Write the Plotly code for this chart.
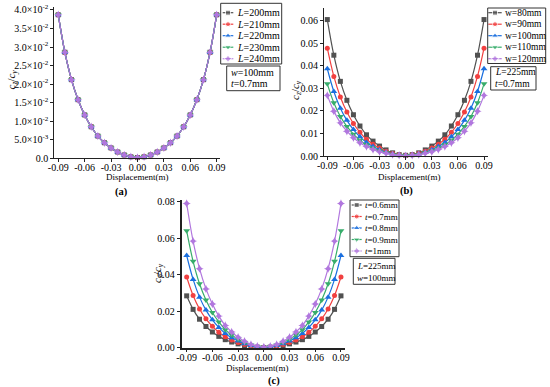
import plotly.graph_objects as go

# ---------------- data ----------------
displacement = [-0.09, -0.0825, -0.075, -0.0675, -0.06, -0.0525, -0.045, -0.0375, -0.03,
                -0.0225, -0.015, -0.0075, 0.0, 0.0075, 0.015, 0.0225, 0.03, 0.0375, 0.045,
                0.0525, 0.06, 0.0675, 0.075, 0.0825, 0.09]

# (a) w=100mm, t=0.7mm : the five L curves coincide
ratio_L200 = [0.0387, 0.0286, 0.0212, 0.0158, 0.0117, 0.0085, 0.0060, 0.0042, 0.0028, 0.0017, 0.0009, 0.0004, 0.0002,
              0.0004, 0.0009, 0.0017, 0.0028, 0.0042, 0.0060, 0.0085, 0.0117, 0.0158, 0.0212, 0.0286, 0.0387]
ratio_L210 = [0.0387, 0.0286, 0.0212, 0.0158, 0.0117, 0.0085, 0.0060, 0.0042, 0.0028, 0.0017, 0.0009, 0.0004, 0.0002,
              0.0004, 0.0009, 0.0017, 0.0028, 0.0042, 0.0060, 0.0085, 0.0117, 0.0158, 0.0212, 0.0286, 0.0387]
ratio_L220 = [0.0387, 0.0286, 0.0212, 0.0158, 0.0117, 0.0085, 0.0060, 0.0042, 0.0028, 0.0017, 0.0009, 0.0004, 0.0002,
              0.0004, 0.0009, 0.0017, 0.0028, 0.0042, 0.0060, 0.0085, 0.0117, 0.0158, 0.0212, 0.0286, 0.0387]
ratio_L230 = [0.0387, 0.0286, 0.0212, 0.0158, 0.0117, 0.0085, 0.0060, 0.0042, 0.0028, 0.0017, 0.0009, 0.0004, 0.0002,
              0.0004, 0.0009, 0.0017, 0.0028, 0.0042, 0.0060, 0.0085, 0.0117, 0.0158, 0.0212, 0.0286, 0.0387]
ratio_L240 = [0.0387, 0.0286, 0.0212, 0.0158, 0.0117, 0.0085, 0.0060, 0.0042, 0.0028, 0.0017, 0.0009, 0.0004, 0.0002,
              0.0004, 0.0009, 0.0017, 0.0028, 0.0042, 0.0060, 0.0085, 0.0117, 0.0158, 0.0212, 0.0286, 0.0387]

# (b) L=225mm, t=0.7mm
ratio_w80 = [0.0605, 0.0447, 0.0331, 0.0247, 0.0183, 0.0133, 0.0094, 0.0066, 0.0044, 0.0027, 0.0014, 0.0006, 0.0003,
             0.0006, 0.0014, 0.0027, 0.0044, 0.0066, 0.0094, 0.0133, 0.0183, 0.0247, 0.0331, 0.0447, 0.0605]
ratio_w90 = [0.0478, 0.0353, 0.0262, 0.0195, 0.0144, 0.0105, 0.0074, 0.0052, 0.0035, 0.0021, 0.0011, 0.0005, 0.0002,
             0.0005, 0.0011, 0.0021, 0.0035, 0.0052, 0.0074, 0.0105, 0.0144, 0.0195, 0.0262, 0.0353, 0.0478]
ratio_w100 = [0.0387, 0.0286, 0.0212, 0.0158, 0.0117, 0.0085, 0.0060, 0.0042, 0.0028, 0.0017, 0.0009, 0.0004, 0.0002,
              0.0004, 0.0009, 0.0017, 0.0028, 0.0042, 0.0060, 0.0085, 0.0117, 0.0158, 0.0212, 0.0286, 0.0387]
ratio_w110 = [0.0320, 0.0236, 0.0175, 0.0131, 0.0097, 0.0070, 0.0050, 0.0035, 0.0023, 0.0014, 0.0007, 0.0003, 0.0002,
              0.0003, 0.0007, 0.0014, 0.0023, 0.0035, 0.0050, 0.0070, 0.0097, 0.0131, 0.0175, 0.0236, 0.0320]
ratio_w120 = [0.0269, 0.0199, 0.0147, 0.0110, 0.0081, 0.0059, 0.0042, 0.0029, 0.0019, 0.0012, 0.0006, 0.0003, 0.0001,
              0.0003, 0.0006, 0.0012, 0.0019, 0.0029, 0.0042, 0.0059, 0.0081, 0.0110, 0.0147, 0.0199, 0.0269]

# (c) L=225mm, w=100mm
ratio_t06 = [0.0284, 0.0210, 0.0156, 0.0116, 0.0086, 0.0062, 0.0044, 0.0031, 0.0021, 0.0012, 0.0007, 0.0003, 0.0001,
             0.0003, 0.0007, 0.0012, 0.0021, 0.0031, 0.0044, 0.0062, 0.0086, 0.0116, 0.0156, 0.0210, 0.0284]
ratio_t07 = [0.0387, 0.0286, 0.0212, 0.0158, 0.0117, 0.0085, 0.0060, 0.0042, 0.0028, 0.0017, 0.0009, 0.0004, 0.0002,
             0.0004, 0.0009, 0.0017, 0.0028, 0.0042, 0.0060, 0.0085, 0.0117, 0.0158, 0.0212, 0.0286, 0.0387]
ratio_t08 = [0.0505, 0.0374, 0.0277, 0.0206, 0.0153, 0.0111, 0.0078, 0.0055, 0.0037, 0.0022, 0.0012, 0.0005, 0.0003,
             0.0005, 0.0012, 0.0022, 0.0037, 0.0055, 0.0078, 0.0111, 0.0153, 0.0206, 0.0277, 0.0374, 0.0505]
ratio_t09 = [0.0640, 0.0473, 0.0350, 0.0261, 0.0193, 0.0141, 0.0099, 0.0069, 0.0046, 0.0028, 0.0015, 0.0007, 0.0003,
             0.0007, 0.0015, 0.0028, 0.0046, 0.0069, 0.0099, 0.0141, 0.0193, 0.0261, 0.0350, 0.0473, 0.0640]
ratio_t10 = [0.0790, 0.0584, 0.0433, 0.0322, 0.0239, 0.0173, 0.0122, 0.0086, 0.0057, 0.0035, 0.0018, 0.0008, 0.0004,
             0.0008, 0.0018, 0.0035, 0.0057, 0.0086, 0.0122, 0.0173, 0.0239, 0.0322, 0.0433, 0.0584, 0.0790]

names_a = ["<i>L</i>=200mm", "<i>L</i>=210mm", "<i>L</i>=220mm", "<i>L</i>=230mm", "<i>L</i>=240mm"]
names_b = ["w=80mm", "w=90mm", "w=100mm", "w=110mm", "w=120mm"]
names_c = ["<i>t</i>=0.6mm", "<i>t</i>=0.7mm", "<i>t</i>=0.8mm", "<i>t</i>=0.9mm", "<i>t</i>=1mm"]

x_tickvals = [-0.09, -0.06, -0.03, 0.0, 0.03, 0.06, 0.09]
x_ticktext = ["-0.09", "-0.06", "-0.03", "0.00", "0.03", "0.06", "0.09"]
ya_tickvals = [0.0, 0.005, 0.01, 0.015, 0.02, 0.025, 0.03, 0.035, 0.04]
ya_ticktext = ["0.0", "5.0×10<sup>-3</sup>", "1.0×10<sup>-2</sup>", "1.5×10<sup>-2</sup>", "2.0×10<sup>-2</sup>",
               "2.5×10<sup>-2</sup>", "3.0×10<sup>-2</sup>", "3.5×10<sup>-2</sup>", "4.0×10<sup>-2</sup>"]
yb_tickvals = [0.0, 0.01, 0.02, 0.03, 0.04, 0.05, 0.06]
yb_ticktext = ["0.00", "0.01", "0.02", "0.03", "0.04", "0.05", "0.06"]
yc_tickvals = [0.0, 0.02, 0.04, 0.06, 0.08]
yc_ticktext = ["0.00", "0.02", "0.04", "0.06", "0.08"]

# ---------------- styles ----------------
W, H = 550, 387
FONT = "Liberation Serif"
colors = ["#515151", "#F14040", "#1A6FDF", "#37AD6B", "#B177DE"]
symbols = ["square", "circle", "triangle-up", "triangle-down", "star-diamond"]
msizes = [5, 5, 6, 6, 6]

fig = go.Figure()

panels = [
    ("x", "y", [ratio_L200, ratio_L210, ratio_L220, ratio_L230, ratio_L240], names_a),
    ("x2", "y2", [ratio_w80, ratio_w90, ratio_w100, ratio_w110, ratio_w120], names_b),
    ("x3", "y3", [ratio_t06, ratio_t07, ratio_t08, ratio_t09, ratio_t10], names_c),
]
for xa, ya, series, names in panels:
    for i, (vals, nm) in enumerate(zip(series, names)):
        fig.add_trace(go.Scatter(
            x=displacement, y=vals, name=nm, xaxis=xa, yaxis=ya,
            mode="lines+markers", line=dict(color=colors[i], width=1.2, shape="spline"),
            marker=dict(symbol=symbols[i], size=msizes[i], color=colors[i]),
            cliponaxis=False, showlegend=False))

# pixel geometry of the three plot areas: left, right, top, bottom
geo = {
    "a": (54.3, 220.0, 7.0, 158.3),
    "b": (324.0, 488.3, 8.3, 156.0),
    "c": (181.7, 345.0, 200.0, 347.7),
}
ranges_x = {"a": [-0.0945, 0.0938], "b": [-0.0938, 0.0949], "c": [-0.0958, 0.0947]}
ranges_y = {"a": [0, 0.0408], "b": [0, 0.0655], "c": [0, 0.0809]}


def dom(key):
    l, r, t, b = geo[key]
    return [l / W, r / W], [1 - b / H, 1 - t / H]


tickfont = dict(family=FONT, size=10, color="black")
axis_common = dict(showgrid=False, zeroline=False, ticks="outside", ticklen=3, tickwidth=1,
                   tickcolor="#222", showline=True, linecolor="#222", tickfont=tickfont,
                   mirror=False, automargin=False)

for key, xn, yn, ytv, ytt, lw in [("a", "xaxis", "yaxis", ya_tickvals, ya_ticktext, (1, 1)),
                                  ("b", "xaxis2", "yaxis2", yb_tickvals, yb_ticktext, (1, 1)),
                                  ("c", "xaxis3", "yaxis3", yc_tickvals, yc_ticktext, (1.5, 2))]:
    dx, dy = dom(key)
    anchor_y = "y" if key == "a" else ("y2" if key == "b" else "y3")
    anchor_x = "x" if key == "a" else ("x2" if key == "b" else "x3")
    fig.update_layout(**{
        xn: dict(domain=dx, range=ranges_x[key], anchor=anchor_y, tickvals=x_tickvals,
                 ticktext=x_ticktext, linewidth=lw[0], ticklabelstandoff=-3, **axis_common),
        yn: dict(domain=dy, range=ranges_y[key], anchor=anchor_x, tickvals=ytv,
                 ticktext=ytt, linewidth=lw[1], **axis_common),
    })

# overlay axis in pixel units for legends / labels
fig.update_layout(
    xaxis4=dict(domain=[0, 1], range=[0, W], visible=False, fixedrange=True, anchor="y4", automargin=False),
    yaxis4=dict(domain=[0, 1], range=[H, 0], visible=False, fixedrange=True, anchor="x4", automargin=False),
)

legends = [
    # box (l, r, t, b), first row y, row step, line x0, x1, text x, font size, names
    ((220.7, 281.7, 3.3, 64.0), 12.7, 11.5, 222.7, 233.3, 235.0, 10.0, names_a),
    ((487.7, 545.7, 8.0, 63.5), 12.7, 11.5, 488.3, 501.7, 503.3, 9.5, names_b),
    ((350.0, 399.0, 200.0, 256.7), 205.0, 11.5, 351.7, 361.7, 363.3, 9.0, names_c),
]
info_boxes = [
    ((226.7, 280.0, 66.0, 90.7), 228.5, [72.3, 83.6], ["<i>w</i>=100mm", "<i>t</i>=0.7mm"], 10.0),
    ((490.7, 536.0, 66.7, 90.0), 492.5, [72.0, 83.6], ["<i>L</i>=225mm", "<i>t</i>=0.7mm"], 9.5),
    ((353.3, 395.0, 258.3, 284.3), 355.0, [265.6, 277.8], ["<i>L</i>=225mm", "<i>w</i>=100mm"], 9.0),
]

shapes = []
annotations = []
for (l, r, t, b), y0, dy, lx0, lx1, tx, fs, nms in legends:
    shapes.append(dict(type="rect", xref="x4", yref="y4", x0=l, x1=r, y0=t, y1=b,
                       line=dict(color="#333", width=1), fillcolor="rgba(0,0,0,0)"))
    for i, nm in enumerate(nms):
        yy = y0 + i * dy
        fig.add_trace(go.Scatter(
            x=[lx0, (lx0 + lx1) / 2, lx1], y=[yy, yy, yy], xaxis="x4", yaxis="y4",
            mode="lines+markers", line=dict(color=colors[i], width=1.2),
            marker=dict(symbol=symbols[i], size=[0, msizes[i], 0], color=colors[i]),
            showlegend=False, hoverinfo="skip", cliponaxis=False))
        annotations.append(dict(xref="x4", yref="y4", x=tx, y=yy, text=nm, showarrow=False,
                                xanchor="left", yanchor="middle",
                                font=dict(family=FONT, size=fs, color="black")))

for (l, r, t, b), tx, ys, texts, fs in info_boxes:
    shapes.append(dict(type="rect", xref="x4", yref="y4", x0=l, x1=r, y0=t, y1=b,
                       line=dict(color="#333", width=1), fillcolor="rgba(0,0,0,0)"))
    for yy, tt in zip(ys, texts):
        annotations.append(dict(xref="x4", yref="y4", x=tx, y=yy, text=tt, showarrow=False,
                                xanchor="left", yanchor="middle",
                                font=dict(family=FONT, size=fs, color="black")))

ytitle = "<i>c</i><sub><i>z</i></sub>/<i>c</i><sub><i>y</i></sub>"
for x, y in [(11.5, 80.0), (296.0, 90.0), (158.0, 273.0)]:
    annotations.append(dict(xref="x4", yref="y4", x=x, y=y, text=ytitle, textangle=-90,
                            showarrow=False, font=dict(family=FONT, size=11, color="black")))
for x, y in [(137.0, 176.5), (409.0, 176.5), (257.0, 367.8)]:
    annotations.append(dict(xref="x4", yref="y4", x=x, y=y, text="Displacement(m)",
                            showarrow=False, font=dict(family=FONT, size=9, color="black")))
for x, y, t in [(121.7, 191.7, "(a)"), (406.7, 191.0, "(b)"), (274.0, 380.5, "(c)")]:
    annotations.append(dict(xref="x4", yref="y4", x=x, y=y, text="<b>" + t + "</b>",
                            showarrow=False, font=dict(family=FONT, size=10.5, color="black")))

fig.update_layout(
    width=W, height=H, autosize=False,
    margin=dict(l=0, r=0, t=0, b=0, pad=0),
    paper_bgcolor="white", plot_bgcolor="rgba(0,0,0,0)",
    shapes=shapes, annotations=annotations, showlegend=False,
    font=dict(family=FONT, color="black"),
)

fig.write_html("out.html", config={"displayModeBar": False},
               post_script="document.body.style.margin='0';document.body.style.overflow='hidden';")
